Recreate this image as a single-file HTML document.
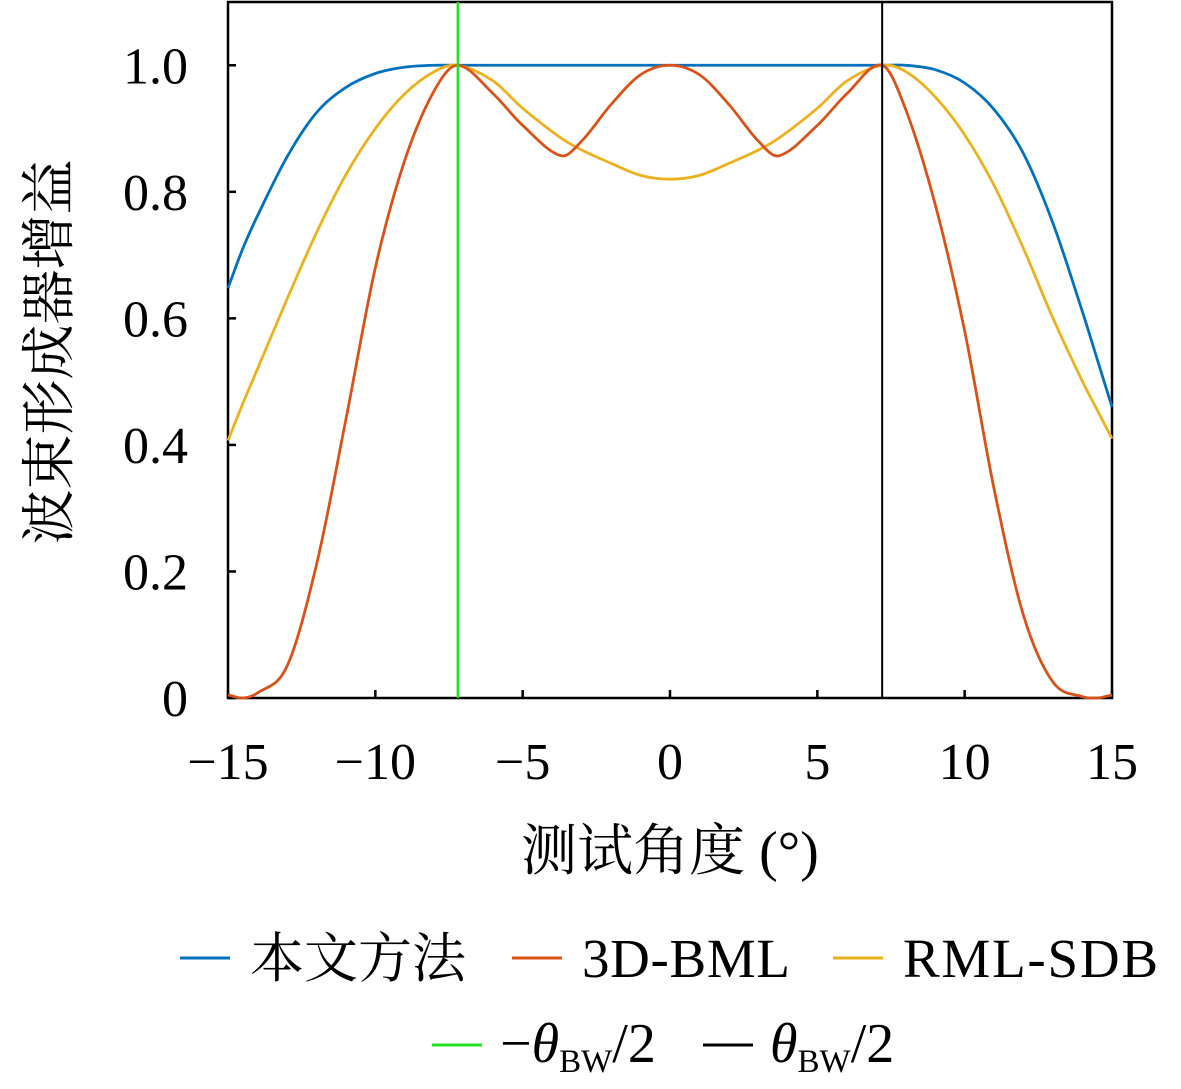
<!DOCTYPE html>
<html><head><meta charset="utf-8"><style>
html,body{margin:0;padding:0;background:#fff;}
svg{display:block;}
text{font-family:"Liberation Serif","Noto Serif CJK SC",serif;fill:#000;}
</style></head><body>
<svg id="chart" width="1181" height="1089" viewBox="0 0 1181 1089" style="position:absolute;left:0;top:0">
<g id="plot"></g>
</svg>
<script>
const xs = [-15,-14.5,-14,-13,-12,-11,-10,-9,-8,-7.2,-6,-5,-3.7,-3,-2,-1,0,1,2,3,3.7,5,6,7.2,8,9,10,11,12,13,14,14.5,15];
const blueVals = [0.648,0.71,0.762,0.855,0.925,0.965,0.987,0.997,1,1,1,1,1,1,1,1,1,1,1,1,1,1,1,1,1,0.993,0.972,0.93,0.86,0.75,0.61,0.535,0.46];
const orangeVals = [0.005,0,0.008,0.05,0.21,0.44,0.68,0.85,0.96,1,0.955,0.905,0.857,0.88,0.938,0.985,1,0.985,0.938,0.88,0.857,0.905,0.955,1,0.93,0.78,0.58,0.33,0.13,0.025,0.002,0,0.005];
const yellowVals = [0.407,0.465,0.52,0.63,0.735,0.827,0.90,0.955,0.99,1,0.975,0.932,0.885,0.866,0.845,0.826,0.82,0.826,0.845,0.866,0.885,0.932,0.975,1,0.99,0.95,0.89,0.81,0.71,0.60,0.50,0.455,0.41];
const xTicks = [-15,-10,-5,0,5,10,15];
const xTickLabels = ["\u221215","\u221210","\u22125","0","5","10","15"];
const yTicks = [0,0.2,0.4,0.6,0.8,1.0];
const yTickLabels = ["0","0.2","0.4","0.6","0.8","1.0"];
const bwHalf = 7.2;

const X0=228,X1=1112,Y0=698,Y1=2;
const sx = v => X0 + (v+15)/30*(X1-X0);
const sy = v => Y0 - v/1.1*(Y0-Y1);
const NS="http://www.w3.org/2000/svg";
const plot=document.getElementById('plot');
function mk(tag,attrs,parent){const e=document.createElementNS(NS,tag);for(const k in attrs)e.setAttribute(k,attrs[k]);(parent||plot).appendChild(e);return e;}
function pathFrom(vals){
  const n=xs.length;
  const m=xs.map((x,i)=>{
    const a=Math.max(0,i-1),b=Math.min(n-1,i+1);
    return (vals[b]-vals[a])/(xs[b]-xs[a]);
  });
  let d=`M${sx(xs[0])},${sy(vals[0])}`;
  for(let i=0;i<n-1;i++){
    const h=xs[i+1]-xs[i];
    const c1x=xs[i]+h/3,c1y=vals[i]+m[i]*h/3;
    const c2x=xs[i+1]-h/3,c2y=vals[i+1]-m[i+1]*h/3;
    d+=` C${sx(c1x)},${sy(c1y)} ${sx(c2x)},${sy(c2y)} ${sx(xs[i+1])},${sy(vals[i+1])}`;
  }
  return d;
}
let fr=mk('rect',{x:X0,y:Y1,width:X1-X0,height:Y0-Y1,fill:'none',stroke:'#000','stroke-width':2.5});


xTicks.forEach((t,i)=>{
  const l=mk('line',{x1:sx(t),x2:sx(t),y1:Y0,y2:Y0-8,stroke:'#000','stroke-width':2.5});
  
  
  const tx=mk('text',{x:sx(t),y:779,'font-size':52,'text-anchor':'middle'});
  tx.textContent=xTickLabels[i];
  
  
});
yTicks.forEach((t,i)=>{
  const l=mk('line',{x1:X0,x2:X0+8,y1:sy(t),y2:sy(t),stroke:'#000','stroke-width':2.5});
  
  
  const tx=mk('text',{x:188,y:sy(t)+18,'font-size':52,'text-anchor':'end'});
  tx.textContent=yTickLabels[i];
  
  
});
const series=[[blueVals,'#0072BD','series-proposed'],[yellowVals,'#EDB120','series-rml-sdb'],[orangeVals,'#D95319','series-3d-bml']];
series.forEach(s=>{
  const p=mk('path',{d:pathFrom(s[0]),fill:'none',stroke:s[1],'stroke-width':2.8});
  
  
});
let g=mk('line',{x1:sx(-bwHalf),x2:sx(-bwHalf),y1:Y1,y2:Y0,stroke:'#22e222','stroke-width':2.5});


let b=mk('line',{x1:sx(bwHalf),x2:sx(bwHalf),y1:Y1,y2:Y0,stroke:'#000','stroke-width':2});


</script>
<svg width="1181" height="1089" style="position:absolute;left:0;top:0">
<text x="670" y="870" font-size="56" text-anchor="middle">测试角度 (°)</text>
<text transform="translate(68,352) rotate(-90)" font-size="55" text-anchor="middle">波束形成器增益</text>
<g>
<line x1="180" x2="230" y1="958" y2="958" stroke="#0072BD" stroke-width="3"/>
<text x="250" y="977" font-size="54">本文方法</text>
<line x1="512" x2="562" y1="958" y2="958" stroke="#D95319" stroke-width="3"/>
<text x="582" y="977" font-size="55" textLength="208">3D-BML</text>
<line x1="833" x2="883" y1="958" y2="958" stroke="#EDB120" stroke-width="3"/>
<text x="903" y="977" font-size="55" textLength="255">RML-SDB</text>
<line x1="432" x2="482" y1="1045" y2="1045" stroke="#22e222" stroke-width="3"/>
<text x="500" y="1062" font-size="56">−<tspan font-style="italic">θ</tspan><tspan font-size="33" dy="10">BW</tspan><tspan dy="-10">/2</tspan></text>
<line x1="703" x2="753" y1="1045" y2="1045" stroke="#000" stroke-width="3"/>
<text x="770" y="1062" font-size="56"><tspan font-style="italic">θ</tspan><tspan font-size="33" dy="10">BW</tspan><tspan dy="-10">/2</tspan></text>
</g>
</svg>
</body></html>
